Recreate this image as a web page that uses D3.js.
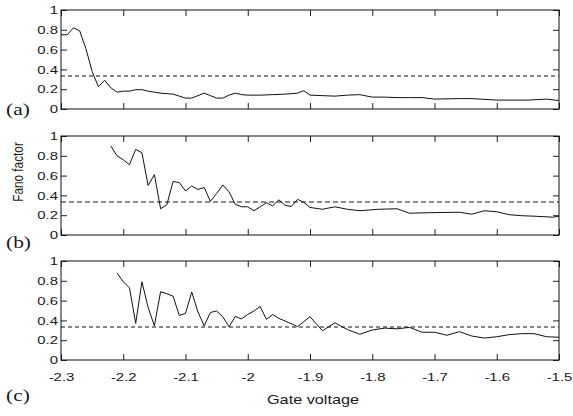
<!DOCTYPE html>
<html>
<head>
<meta charset="utf-8">
<script src="https://cdn.jsdelivr.net/npm/d3@7"></script>
<style>
  html, body { margin: 0; padding: 0; background: #fff; }
  svg { display: block; }
</style>
</head>
<body>
<svg id="chart" width="573" height="416"></svg>
<script>
// ---- data ----
const xA = [-2.30,-2.29,-2.28,-2.27,-2.26,-2.25,-2.24,-2.23,-2.22,-2.21,-2.20,-2.19,-2.18,-2.17,-2.16,-2.15,-2.14,-2.13,-2.12,-2.11,-2.10,-2.09,-2.08,-2.07,-2.06,-2.05,-2.04,-2.03,-2.02,-2.01,-2.00,-1.98,-1.96,-1.94,-1.92,-1.91,-1.90,-1.88,-1.86,-1.84,-1.82,-1.80,-1.78,-1.76,-1.74,-1.72,-1.70,-1.66,-1.64,-1.60,-1.55,-1.52,-1.50];
const yA = [0.75,0.75,0.82,0.79,0.61,0.38,0.225,0.29,0.215,0.17,0.18,0.18,0.195,0.195,0.18,0.17,0.16,0.155,0.15,0.13,0.11,0.11,0.135,0.16,0.135,0.11,0.11,0.14,0.16,0.145,0.14,0.14,0.145,0.15,0.16,0.185,0.14,0.135,0.13,0.14,0.145,0.12,0.12,0.115,0.115,0.115,0.10,0.105,0.105,0.09,0.09,0.10,0.085];

const xB = [-2.22,-2.21,-2.20,-2.19,-2.18,-2.17,-2.16,-2.15,-2.14,-2.13,-2.12,-2.11,-2.10,-2.09,-2.08,-2.07,-2.06,-2.05,-2.04,-2.03,-2.02,-2.01,-2.00,-1.99,-1.98,-1.97,-1.96,-1.95,-1.94,-1.93,-1.92,-1.91,-1.90,-1.88,-1.86,-1.84,-1.82,-1.79,-1.76,-1.74,-1.71,-1.66,-1.64,-1.62,-1.60,-1.58,-1.56,-1.54,-1.51,-1.50];
const yB = [0.90,0.80,0.76,0.71,0.865,0.83,0.50,0.61,0.265,0.305,0.54,0.53,0.445,0.495,0.46,0.48,0.34,0.42,0.505,0.435,0.31,0.285,0.285,0.245,0.285,0.325,0.295,0.355,0.30,0.288,0.36,0.33,0.278,0.26,0.285,0.26,0.245,0.26,0.265,0.22,0.225,0.23,0.21,0.245,0.235,0.205,0.195,0.19,0.18,0.19];

const xC = [-2.21,-2.20,-2.19,-2.18,-2.17,-2.16,-2.15,-2.14,-2.13,-2.12,-2.11,-2.10,-2.09,-2.08,-2.07,-2.06,-2.05,-2.04,-2.03,-2.02,-2.01,-2.00,-1.99,-1.98,-1.97,-1.96,-1.95,-1.935,-1.92,-1.90,-1.88,-1.86,-1.84,-1.82,-1.80,-1.78,-1.76,-1.74,-1.72,-1.70,-1.68,-1.66,-1.64,-1.62,-1.60,-1.58,-1.56,-1.54,-1.52,-1.50];
const yC = [0.88,0.79,0.73,0.37,0.79,0.53,0.345,0.69,0.67,0.645,0.45,0.47,0.687,0.485,0.345,0.48,0.495,0.435,0.335,0.44,0.415,0.46,0.495,0.54,0.41,0.46,0.42,0.38,0.337,0.437,0.295,0.375,0.308,0.26,0.303,0.322,0.315,0.33,0.28,0.28,0.25,0.286,0.242,0.222,0.235,0.256,0.266,0.266,0.235,0.23];

const poissonLevel = [1/3];
const xTicks = [-2.3,-2.2,-2.1,-2,-1.9,-1.8,-1.7,-1.6,-1.5];
const yTicks = [0,0.2,0.4,0.6,0.8,1];
const panelLabels = ["(a)","(b)","(c)"];
const xTitle = "Gate voltage";
const yTitle = "Fano factor";

// ---- layout ----
const svg = d3.select("#chart");
const left = 61, right = 559, ph = 99;
const tops = [10, 136, 261];
const labelBase = [114.5, 248, 401];
const stretch = 1.3;   // reference text is horizontally stretched
const textColor = "#1a1a1a";

const x = d3.scaleLinear().domain([-2.3, -1.5]).range([left, right]);

const series = [
  xA.map((d, i) => [d, yA[i]]),
  xB.map((d, i) => [d, yB[i]]),
  xC.map((d, i) => [d, yC[i]])
];

series.forEach((data, p) => {
  const top = tops[p];
  const y = d3.scaleLinear().domain([0, 1]).range([top + ph, top]);
  const g = svg.append("g");

  // axes with inward ticks on all four sides
  const axB = d3.axisBottom(x).tickValues(xTicks).tickSizeInner(-6).tickSizeOuter(0)
    .tickPadding(13).tickFormat(p === 2 ? (d => String(d)) : (() => ""));
  const axT = d3.axisTop(x).tickValues(xTicks).tickSizeInner(-6).tickSizeOuter(0).tickFormat(() => "");
  const axL = d3.axisLeft(y).tickValues(yTicks).tickSizeInner(-6).tickSizeOuter(0)
    .tickPadding(3).tickFormat(d => String(d));
  const axR = d3.axisRight(y).tickValues(yTicks).tickSizeInner(-6).tickSizeOuter(0).tickFormat(() => "");

  const gB = g.append("g").attr("transform", `translate(0,${top + ph})`).call(axB);
  const gT = g.append("g").attr("transform", `translate(0,${top})`).call(axT);
  const gL = g.append("g").attr("transform", `translate(${left},0)`).call(axL);
  const gR = g.append("g").attr("transform", `translate(${right},0)`).call(axR);

  [gB, gT, gL, gR].forEach(a => {
    a.select(".domain").remove();
    a.selectAll("line").attr("stroke", "#222").attr("stroke-width", 1);
    a.selectAll("text").attr("fill", textColor)
      .attr("font-family", "'Liberation Sans', Arial, sans-serif")
      .attr("font-size", 11.5)
      .attr("transform", `scale(${stretch},1)`);
  });
  gL.selectAll("text").attr("x", -3 / stretch);

  // reference level (Poisson, F = 1/3)
  g.selectAll("line.ref").data(poissonLevel).join("line").attr("class", "ref")
    .attr("x1", left).attr("x2", right)
    .attr("y1", d => y(d)).attr("y2", d => y(d))
    .attr("stroke", p === 1 ? "#666" : "#111")
    .attr("stroke-width", p === 1 ? 1.3 : 1)
    .attr("stroke-dasharray", p === 1 ? "5,3" : "4,3");

  // data line
  g.append("path").datum(data)
    .attr("fill", "none").attr("stroke", "#111").attr("stroke-width", 1)
    .attr("stroke-linejoin", "round")
    .attr("d", d3.line().x(d => x(d[0])).y(d => y(d[1])));

  // frame
  g.append("rect").attr("x", left).attr("y", top)
    .attr("width", right - left).attr("height", ph)
    .attr("fill", "none").attr("stroke", "#111").attr("stroke-width", 1);

  // panel label
  g.append("text").attr("transform", `translate(6,${labelBase[p]}) scale(${stretch},1)`)
    .attr("font-family", "'Liberation Serif', 'Times New Roman', serif")
    .attr("font-size", 16.5).attr("fill", textColor)
    .text(panelLabels[p]);
});

// axis titles
svg.append("text")
  .attr("transform", `translate(${(left + right) / 2 + 3},404) scale(${stretch},1)`)
  .attr("text-anchor", "middle")
  .attr("font-family", "'Liberation Sans', Arial, sans-serif")
  .attr("font-size", 12.5).attr("fill", textColor)
  .text(xTitle);

svg.append("text")
  .attr("transform", `translate(23,172) scale(${stretch},1) rotate(-90)`)
  .attr("text-anchor", "middle")
  .attr("font-family", "'Liberation Sans', Arial, sans-serif")
  .attr("font-size", 11.8).attr("fill", textColor)
  .text(yTitle);
</script>
</body>
</html>
